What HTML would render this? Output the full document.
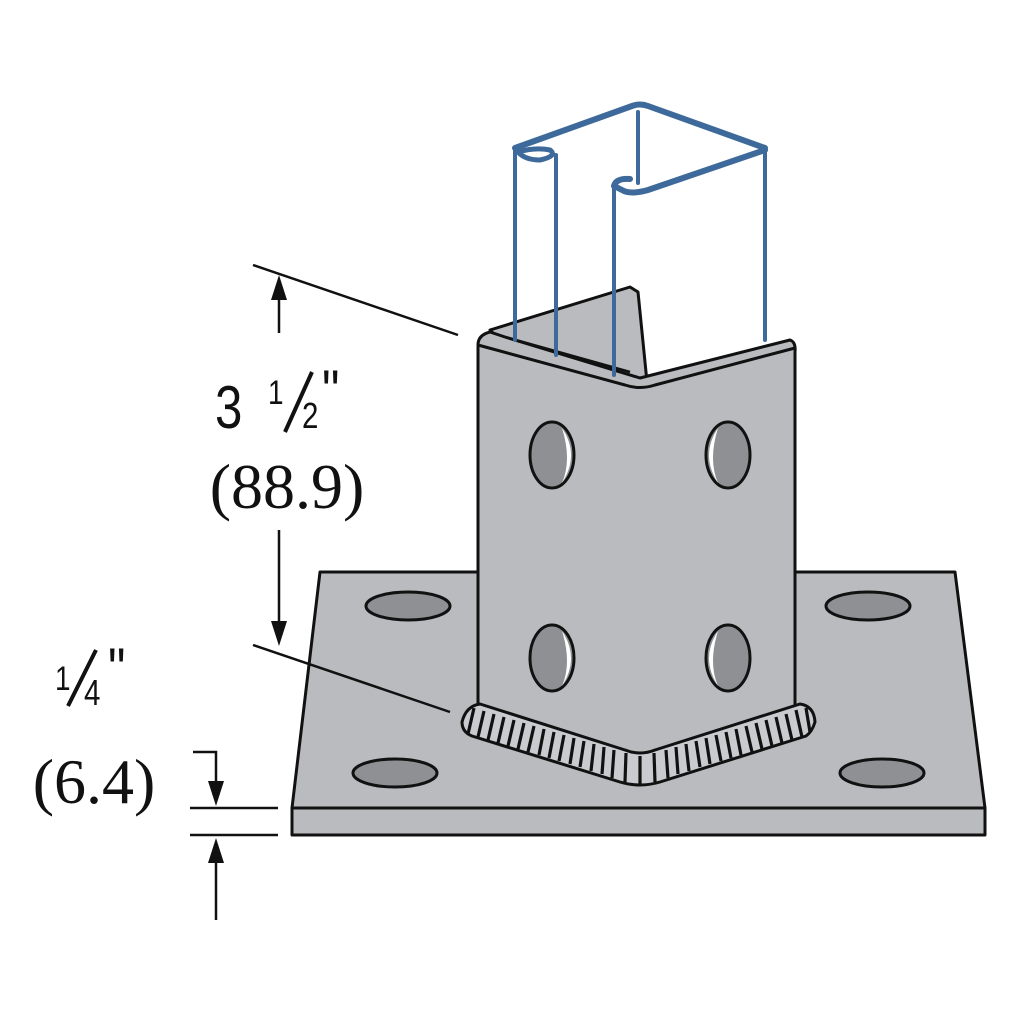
<!DOCTYPE html>
<html><head><style>html,body{margin:0;padding:0;background:#fff}svg{display:block}</style></head>
<body>
<svg width="1024" height="1024" viewBox="0 0 1024 1024" xmlns="http://www.w3.org/2000/svg">
<g stroke="#111" stroke-width="3" stroke-linejoin="round">
<polygon points="320,572 955,572 985,808 292,808" fill="#b9bbbe"/>
<rect x="292" y="808" width="693" height="27" fill="#b9bbbe"/>
<g fill="#8e9093">
<ellipse cx="408" cy="606" rx="42" ry="14"/>
<ellipse cx="868" cy="606" rx="42" ry="14"/>
<ellipse cx="395" cy="773" rx="42" ry="14"/>
<ellipse cx="882" cy="773" rx="42" ry="14"/>
</g>
<polygon points="490,330 630,287 638,292 647,382 640,385 505,345" fill="#b9bbbe"/>
<path d="M478,345 Q478,335 490,332 L505,337 L640,378 L790,340 Q796,342 795,352 L795,712 L640,758 L478,712 Z" fill="#b9bbbe"/>
<path d="M478,345 L625,385 Q640,390 655,385 L795,348" fill="none"/>
<path d="M505,337 L630,372" fill="none" stroke-width="2.5"/>
<g fill="#8e9093">
<ellipse cx="552" cy="455" rx="22" ry="33"/>
<ellipse cx="552" cy="658" rx="22" ry="33"/>
<ellipse cx="728" cy="455" rx="22" ry="33"/>
<ellipse cx="728" cy="658" rx="22" ry="33"/>
</g>
<g fill="#fff" stroke="none">
<path d="M562,428 Q580,455 562,483 Q572,460 562,428Z"/>
<path d="M562,631 Q580,658 562,686 Q572,663 562,631Z"/>
<path d="M718,428 Q700,455 718,483 Q708,460 718,428Z"/>
<path d="M718,631 Q700,658 718,686 Q708,663 718,631Z"/>
</g>
<path d="M462,722 Q466,706 480,704 L625,750 Q640,756 655,750 L800,704 Q814,706 815,722 Q812,732 806,736 L660,782 Q640,788 620,782 L472,736 Q462,732 462,722Z" fill="#c9cbce"/>
</g>
<g stroke="#111" stroke-width="3.2">
<line x1="474" y1="708" x2="468" y2="734"/><line x1="484" y1="711" x2="478" y2="737"/><line x1="494" y1="714" x2="488" y2="740"/><line x1="504" y1="717" x2="498" y2="743"/><line x1="514" y1="720" x2="508" y2="746"/><line x1="524" y1="723" x2="518" y2="749"/><line x1="534" y1="726" x2="528" y2="752"/><line x1="544" y1="729" x2="539" y2="755"/><line x1="554" y1="732" x2="549" y2="758"/><line x1="564" y1="735" x2="559" y2="761"/><line x1="574" y1="738" x2="570" y2="764"/><line x1="584" y1="741" x2="580" y2="767"/><line x1="594" y1="744" x2="591" y2="771"/><line x1="604" y1="747" x2="602" y2="774"/><line x1="614" y1="750" x2="612" y2="778"/><line x1="626" y1="753" x2="625" y2="782"/><line x1="640" y1="756" x2="640" y2="786"/><line x1="654" y1="753" x2="655" y2="782"/><line x1="666" y1="750" x2="668" y2="778"/><line x1="676" y1="747" x2="678" y2="774"/><line x1="686" y1="744" x2="689" y2="771"/><line x1="696" y1="741" x2="700" y2="767"/><line x1="706" y1="738" x2="710" y2="764"/><line x1="716" y1="735" x2="721" y2="761"/><line x1="726" y1="732" x2="731" y2="758"/><line x1="736" y1="729" x2="741" y2="755"/><line x1="746" y1="726" x2="752" y2="752"/><line x1="756" y1="723" x2="762" y2="749"/><line x1="766" y1="720" x2="772" y2="746"/><line x1="776" y1="717" x2="782" y2="743"/><line x1="786" y1="714" x2="792" y2="740"/><line x1="796" y1="710" x2="802" y2="737"/><line x1="806" y1="708" x2="810" y2="732"/>
</g>
<g stroke="#3d6a9a" stroke-width="4" fill="none" stroke-linecap="round" stroke-linejoin="round">
<line x1="515" y1="150" x2="515" y2="340"/>
<line x1="556" y1="155" x2="556" y2="355"/>
<line x1="614" y1="185" x2="614" y2="375"/>
<line x1="765" y1="150" x2="765" y2="340"/>
<line x1="638" y1="112" x2="638" y2="183"/>
<path d="M515,148 L632,106 Q640,103 648,106 L765,148" stroke-width="6"/>
<path d="M765,150 L648,190 Q630,195 622,190 L614,186 Q616,178 630,179" stroke-width="6"/>
<path d="M518,152 Q535,147 550,150 Q558,156 540,160 Q525,160 518,152" stroke-width="5"/>
</g>
<g stroke="#111" stroke-width="2.5" fill="#111">
<line x1="253" y1="265" x2="458" y2="335"/>
<line x1="253" y1="645" x2="450" y2="712"/>
<line x1="279" y1="295" x2="279" y2="333"/>
<polygon points="279,275 271,300 287,300" stroke="none"/>
<line x1="279" y1="530" x2="279" y2="625"/>
<polygon points="279,646 271,621 287,621" stroke="none"/>
<polyline points="193,752 216,752 216,785" fill="none"/>
<polygon points="216,806 208,781 224,781" stroke="none"/>
<line x1="190" y1="808" x2="278" y2="808"/>
<line x1="190" y1="835" x2="278" y2="835"/>
<line x1="216" y1="860" x2="216" y2="920"/>
<polygon points="216,838 208,863 224,863" stroke="none"/>
</g>
<g fill="#111" font-family="Liberation Sans, sans-serif">
<text x="215" y="428" font-size="60" transform="translate(215,0) scale(0.82,1) translate(-215,0)">3</text>
<text x="268" y="404" font-size="34" transform="translate(268,0) scale(0.82,1) translate(-268,0)">1</text>
<line x1="285" y1="432" x2="312" y2="372" stroke="#111" stroke-width="4"/>
<text x="302" y="428" font-size="36" transform="translate(302,0) scale(0.82,1) translate(-302,0)">2</text>
<text x="322" y="412" font-size="60" transform="translate(322,0) scale(0.82,1) translate(-322,0)">"</text>
<text x="55" y="690" font-size="34" transform="translate(55,0) scale(0.82,1) translate(-55,0)">1</text>
<line x1="68" y1="706" x2="96" y2="650" stroke="#111" stroke-width="4"/>
<text x="84" y="705" font-size="36" transform="translate(84,0) scale(0.82,1) translate(-84,0)">4</text>
<text x="108" y="690" font-size="60" transform="translate(108,0) scale(0.82,1) translate(-108,0)">"</text>
<text x="287" y="508" font-family="Liberation Serif, serif" font-size="64" text-anchor="middle">(88.9)</text>
<text x="94" y="803" font-family="Liberation Serif, serif" font-size="64" text-anchor="middle">(6.4)</text>
</g>
</svg>
</body></html>
